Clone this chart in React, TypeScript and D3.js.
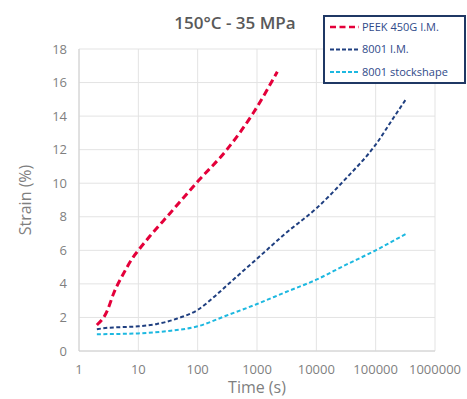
import React from "react";
import * as d3 from "d3";

const xTicks = [1, 10, 100, 1000, 10000, 100000, 1000000];
const yTicks = [0, 2, 4, 6, 8, 10, 12, 14, 16, 18];

const peekX = [2, 3, 3.8, 5.6, 8.2, 10, 15.7, 34, 100, 310, 870, 2200];
const peekY = [1.55, 2.4, 3.4, 4.6, 5.6, 6.0, 6.85, 8.2, 10.1, 12.0, 14.2, 16.65];

const imX = [2, 3, 5, 10, 20, 44, 100, 200, 320, 1000, 3000, 10000, 30000, 100000, 200000, 330000];
const imY = [1.3, 1.38, 1.42, 1.47, 1.6, 1.92, 2.45, 3.3, 3.95, 5.5, 7.0, 8.5, 10.2, 12.3, 13.9, 15.05];

const ssX = [2, 5, 10, 30, 100, 300, 1000, 3000, 10000, 30000, 100000, 330000];
const ssY = [1.0, 1.02, 1.05, 1.18, 1.47, 2.1, 2.8, 3.5, 4.25, 5.1, 6.0, 7.0];

const seriesNames = ["PEEK 450G I.M.", "8001 I.M.", "8001 stockshape"];

export default function App() {
  const W = 467, H = 399;
  const x = d3.scaleLog().domain([1, 1000000]).range([79, 435]);
  const y = d3.scaleLinear().domain([0, 18]).range([351, 49]);
  const line = d3
    .line<[number, number]>()
    .x((d) => x(d[0]))
    .y((d) => y(d[1]))
    .curve(d3.curveMonotoneX);
  const zip = (a: number[], b: number[]) => a.map((v, i) => [v, b[i]] as [number, number]);
  const series = [
    { name: seriesNames[0], data: zip(peekX, peekY), color: "#E4003A", width: 3, dash: "7,4" },
    { name: seriesNames[1], data: zip(imX, imY), color: "#1F3F80", width: 2, dash: "4,2.5" },
    { name: seriesNames[2], data: zip(ssX, ssY), color: "#1DB8E0", width: 2, dash: "4,2.5" },
  ];
  const font = "'Open Sans', 'DejaVu Sans', sans-serif";
  return (
    <svg width={W} height={H} style={{ position: "absolute", left: 0, top: 0 }} fontFamily={font}>
      <rect width={W} height={H} fill="#fff" />
      {yTicks.map((t) => (
        <line key={"gy" + t} x1={79} x2={435} y1={y(t)} y2={y(t)} stroke="#E3E3E3" strokeWidth={1} />
      ))}
      {xTicks.map((t) => (
        <line key={"gx" + t} x1={x(t)} x2={x(t)} y1={49} y2={351} stroke="#E3E3E3" strokeWidth={1} />
      ))}
      <line x1={79} x2={435} y1={351} y2={351} stroke="#D0D0D0" />
      <line x1={79} x2={79} y1={49} y2={351} stroke="#D0D0D0" />
      {yTicks.map((t) => (
        <text key={"ty" + t} x={67} y={y(t)} dy="0.35em" textAnchor="end" fontSize={13} fill="#7F7F7F">
          {t}
        </text>
      ))}
      {xTicks.map((t) => (
        <text key={"tx" + t} x={x(t)} y={369} dy="0.35em" textAnchor="middle" fontSize={13} fill="#7F7F7F">
          {t}
        </text>
      ))}
      <text x={257} y={393} textAnchor="middle" fontSize={16} fill="#7F7F7F">
        Time (s)
      </text>
      <text transform="translate(31,200) rotate(-90)" textAnchor="middle" fontSize={16} fill="#7F7F7F">
        Strain (%)
      </text>
      <text x={235} y={29} textAnchor="middle" fontSize={17} fontWeight={600} fill="#595959">
        150°C - 35 MPa
      </text>
      {series.map((s) => (
        <path
          key={s.name}
          d={line(s.data) || ""}
          fill="none"
          stroke={s.color}
          strokeWidth={s.width}
          strokeDasharray={s.dash}
        />
      ))}
      <rect x={324} y={16} width={141} height={67} fill="#fff" stroke="#1F3864" strokeWidth={2} />
      {series.map((s, i) => (
        <g key={"lg" + i}>
          <line
            x1={330}
            x2={359}
            y1={27 + i * 22.5}
            y2={27 + i * 22.5}
            stroke={s.color}
            strokeWidth={s.width === 3 ? 2.5 : 1.8}
            strokeDasharray={s.width === 3 ? "6,3.5" : "4,2"}
          />
          <text x={362} y={27 + i * 22.5} dy="0.35em" fontSize={11} fill="#2F4A8A">
            {s.name}
          </text>
        </g>
      ))}
    </svg>
  );
}
